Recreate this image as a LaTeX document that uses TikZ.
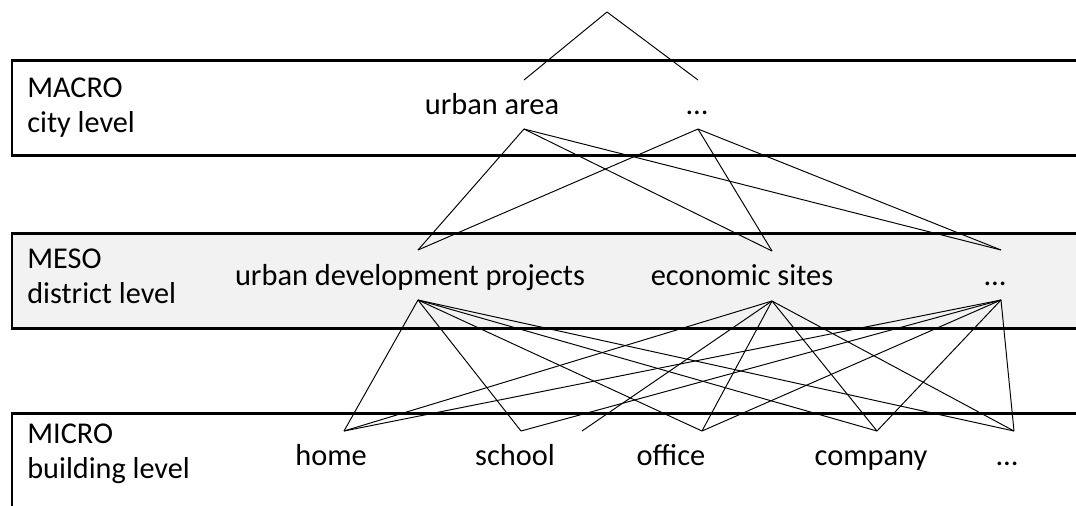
\documentclass[tikz,border=0pt]{standalone}
\usepackage{fontspec}
\setmainfont{Carlito}
\usepackage{tikz}
\usetikzlibrary{positioning}
\definecolor{mesoGray}{HTML}{F2F2F2}
\tikzset{
  levelbox/.style={draw=black, line width=1.7pt},
  levelname/.style={anchor=base west, align=left, inner sep=0pt,
    font=\fontsize{17.2}{19.6}\selectfont},
  item/.style={anchor=base, inner sep=0pt, font=\fontsize{17.3}{20}\selectfont},
  link/.style={black, line width=0.55pt}
}

\begin{document}
\begin{tikzpicture}[x=0.02cm, y=-0.02cm]
  \useasboundingbox (0,0) rectangle (1076,505);
  \clip (0,0) rectangle (1076,505);

  % the three levels
  \draw[levelbox, fill=white] (12,60) rectangle (1090,155);
  \draw[levelbox, fill=mesoGray] (12,233) rectangle (1090,328);
  \draw[levelbox, fill=white] (12,413) rectangle (1090,540);

  % base of the last line sits at the given point
  \node[levelname] (macro) at (27,132) {MACRO\\city level};
  \node[levelname] (meso) at (27,303) {MESO\\district level};
  \node[levelname] (micro) at (27,478) {MICRO\\building level};

  % entries of each level
  \node[item] (area) at (492,114) {urban area};
  \node[item] (macDots) at (697,114) {…};
  \node[item] (proj) at (410,285) {urban development projects};
  \node[item] (econ) at (742,285) {economic sites};
  \node[item] (mesDots) at (995,285) {…};
  \node[item] (home) at (331,465) {home};
  \node[item] (school) at (515,465) {school};
  \node[item] (office) at (671,465) {office};
  \node[item] (company) at (871,465) {company};
  \node[item] (micDots) at (1007,465) {…};

  % link points above and below the entries
  \coordinate (top) at (607,12);
  \foreach \n/\x/\yt/\yb in {area/524/80/129, macDots/698/80/129,
      proj/418/250/300, econ/772/251/301, mesDots/1001/250/300}{
    \coordinate (\n T) at (\x,\yt);
    \coordinate (\n B) at (\x,\yb);
  }
  \foreach \n/\x in {home/344, school/521, office/702, company/877, micDots/1014}
    \coordinate (\n T) at (\x,431);
  \coordinate (gap) at (582,431);

  % links between the levels
  \foreach \a/\b in {top/areaT, top/macDotsT,
      areaB/projT, areaB/econT, areaB/mesDotsT,
      macDotsB/projT, macDotsB/econT, macDotsB/mesDotsT,
      projB/homeT, projB/schoolT, projB/officeT, projB/companyT, projB/micDotsT,
      econB/homeT, econB/gap, econB/officeT, econB/companyT, econB/micDotsT,
      mesDotsB/homeT, mesDotsB/schoolT, mesDotsB/officeT, mesDotsB/companyT,
      mesDotsB/micDotsT}
    \draw[link] (\a) -- (\b);
\end{tikzpicture}
\end{document}
